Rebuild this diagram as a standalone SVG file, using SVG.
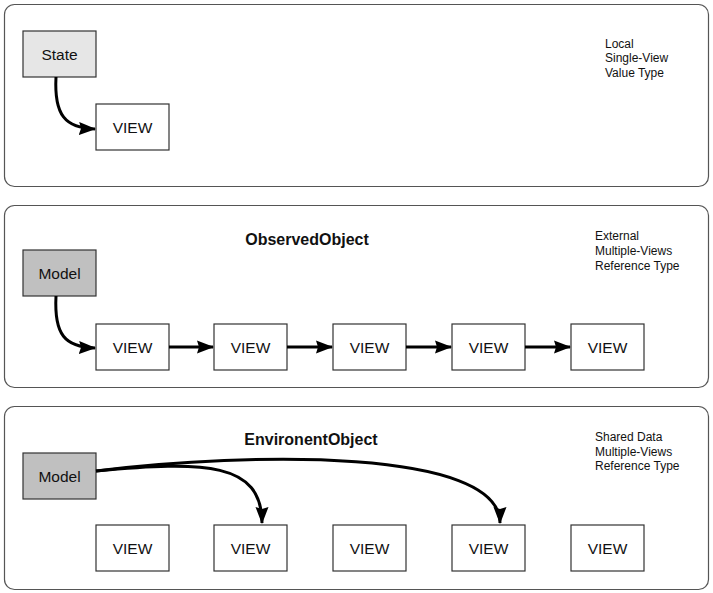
<svg xmlns="http://www.w3.org/2000/svg" width="713" height="593" viewBox="0 0 713 593">
<style>
.panel{fill:#fff;stroke:#555;stroke-width:1.2}
.box{fill:#fff;stroke:#333;stroke-width:1.2}
.state{fill:#e6e6e6;stroke:#333;stroke-width:1.2}
.model{fill:#c0c0c0;stroke:#333;stroke-width:1.2}
.lbl{font-family:"Liberation Sans",Arial,sans-serif;font-size:15.5px;fill:#111;text-anchor:middle;dominant-baseline:central}
.title{font-family:"Liberation Sans",Arial,sans-serif;font-size:16px;font-weight:bold;fill:#111;text-anchor:middle}
.note{font-family:"Liberation Sans",Arial,sans-serif;font-size:12px;fill:#111}
.conn{fill:none;stroke:#000;stroke-width:3;marker-end:url(#ah)}
</style>
<defs>
<marker id="ah" markerUnits="userSpaceOnUse" markerWidth="18" markerHeight="14" refX="16" refY="7" orient="auto">
<path d="M0,0.5 L17,7 L0,13.5 L2,7 Z" fill="#000"/>
</marker>
</defs>
<rect class="panel" x="4.5" y="4.5" width="704" height="182" rx="10"/>
<rect class="panel" x="4.5" y="205.5" width="704" height="182" rx="10"/>
<rect class="panel" x="4.5" y="406.5" width="704" height="183" rx="10"/>

<g id="notes">
<text class="note" x="605" y="48">Local</text>
<text class="note" x="605" y="62">Single-View</text>
<text class="note" x="605" y="77">Value Type</text>
<text class="note" x="595" y="240">External</text>
<text class="note" x="595" y="255">Multiple-Views</text>
<text class="note" x="595" y="270">Reference Type</text>
<text class="note" x="595" y="441">Shared Data</text>
<text class="note" x="595" y="456">Multiple-Views</text>
<text class="note" x="595" y="470">Reference Type</text>
</g>
<text id="title2" class="title" x="307" y="245">ObservedObject</text>
<text id="title3" class="title" x="311" y="445">EnvironentObject</text>

<g id="state"><rect class="state" x="23" y="31" width="73" height="46"/><text class="lbl" x="59.5" y="54">State</text></g>
<g id="view1"><rect class="box" x="96" y="104" width="73" height="46"/><text class="lbl" x="132.5" y="127">VIEW</text></g>

<g id="model2"><rect class="model" x="23" y="250" width="73" height="46"/><text class="lbl" x="59.5" y="273">Model</text></g>
<g id="v2a"><rect class="box" x="96" y="324" width="73" height="46"/><text class="lbl" x="132.5" y="347">VIEW</text></g>
<g id="v2b"><rect class="box" x="214" y="324" width="73" height="46"/><text class="lbl" x="250.5" y="347">VIEW</text></g>
<g id="v2c"><rect class="box" x="333" y="324" width="73" height="46"/><text class="lbl" x="369.5" y="347">VIEW</text></g>
<g id="v2d"><rect class="box" x="452" y="324" width="73" height="46"/><text class="lbl" x="488.5" y="347">VIEW</text></g>
<g id="v2e"><rect class="box" x="571" y="324" width="73" height="46"/><text class="lbl" x="607.5" y="347">VIEW</text></g>

<g id="model3"><rect class="model" x="23" y="453" width="73" height="46"/><text class="lbl" x="59.5" y="476">Model</text></g>
<g id="v3a"><rect class="box" x="96" y="525" width="73" height="46"/><text class="lbl" x="132.5" y="548">VIEW</text></g>
<g id="v3b"><rect class="box" x="214" y="525" width="73" height="46"/><text class="lbl" x="250.5" y="548">VIEW</text></g>
<g id="v3c"><rect class="box" x="333" y="525" width="73" height="46"/><text class="lbl" x="369.5" y="548">VIEW</text></g>
<g id="v3d"><rect class="box" x="452" y="525" width="73" height="46"/><text class="lbl" x="488.5" y="548">VIEW</text></g>
<g id="v3e"><rect class="box" x="571" y="525" width="73" height="46"/><text class="lbl" x="607.5" y="548">VIEW</text></g>

<g id="connectors">
<path class="conn" d="M56,77 C54,115 65,128 95,129"/>
<path class="conn" d="M56,296 C54,335 65,347 95,348"/>
<path class="conn" d="M169,347 L213,347"/>
<path class="conn" d="M287,347 L332,347"/>
<path class="conn" d="M406,347 L451,347"/>
<path class="conn" d="M525,347 L570,347"/>
<path class="conn" d="M96,471 C205,461 262,462 262,523"/>
<path class="conn" d="M96,471 C250,452 500,448 500,523"/>
</g>
</svg>
